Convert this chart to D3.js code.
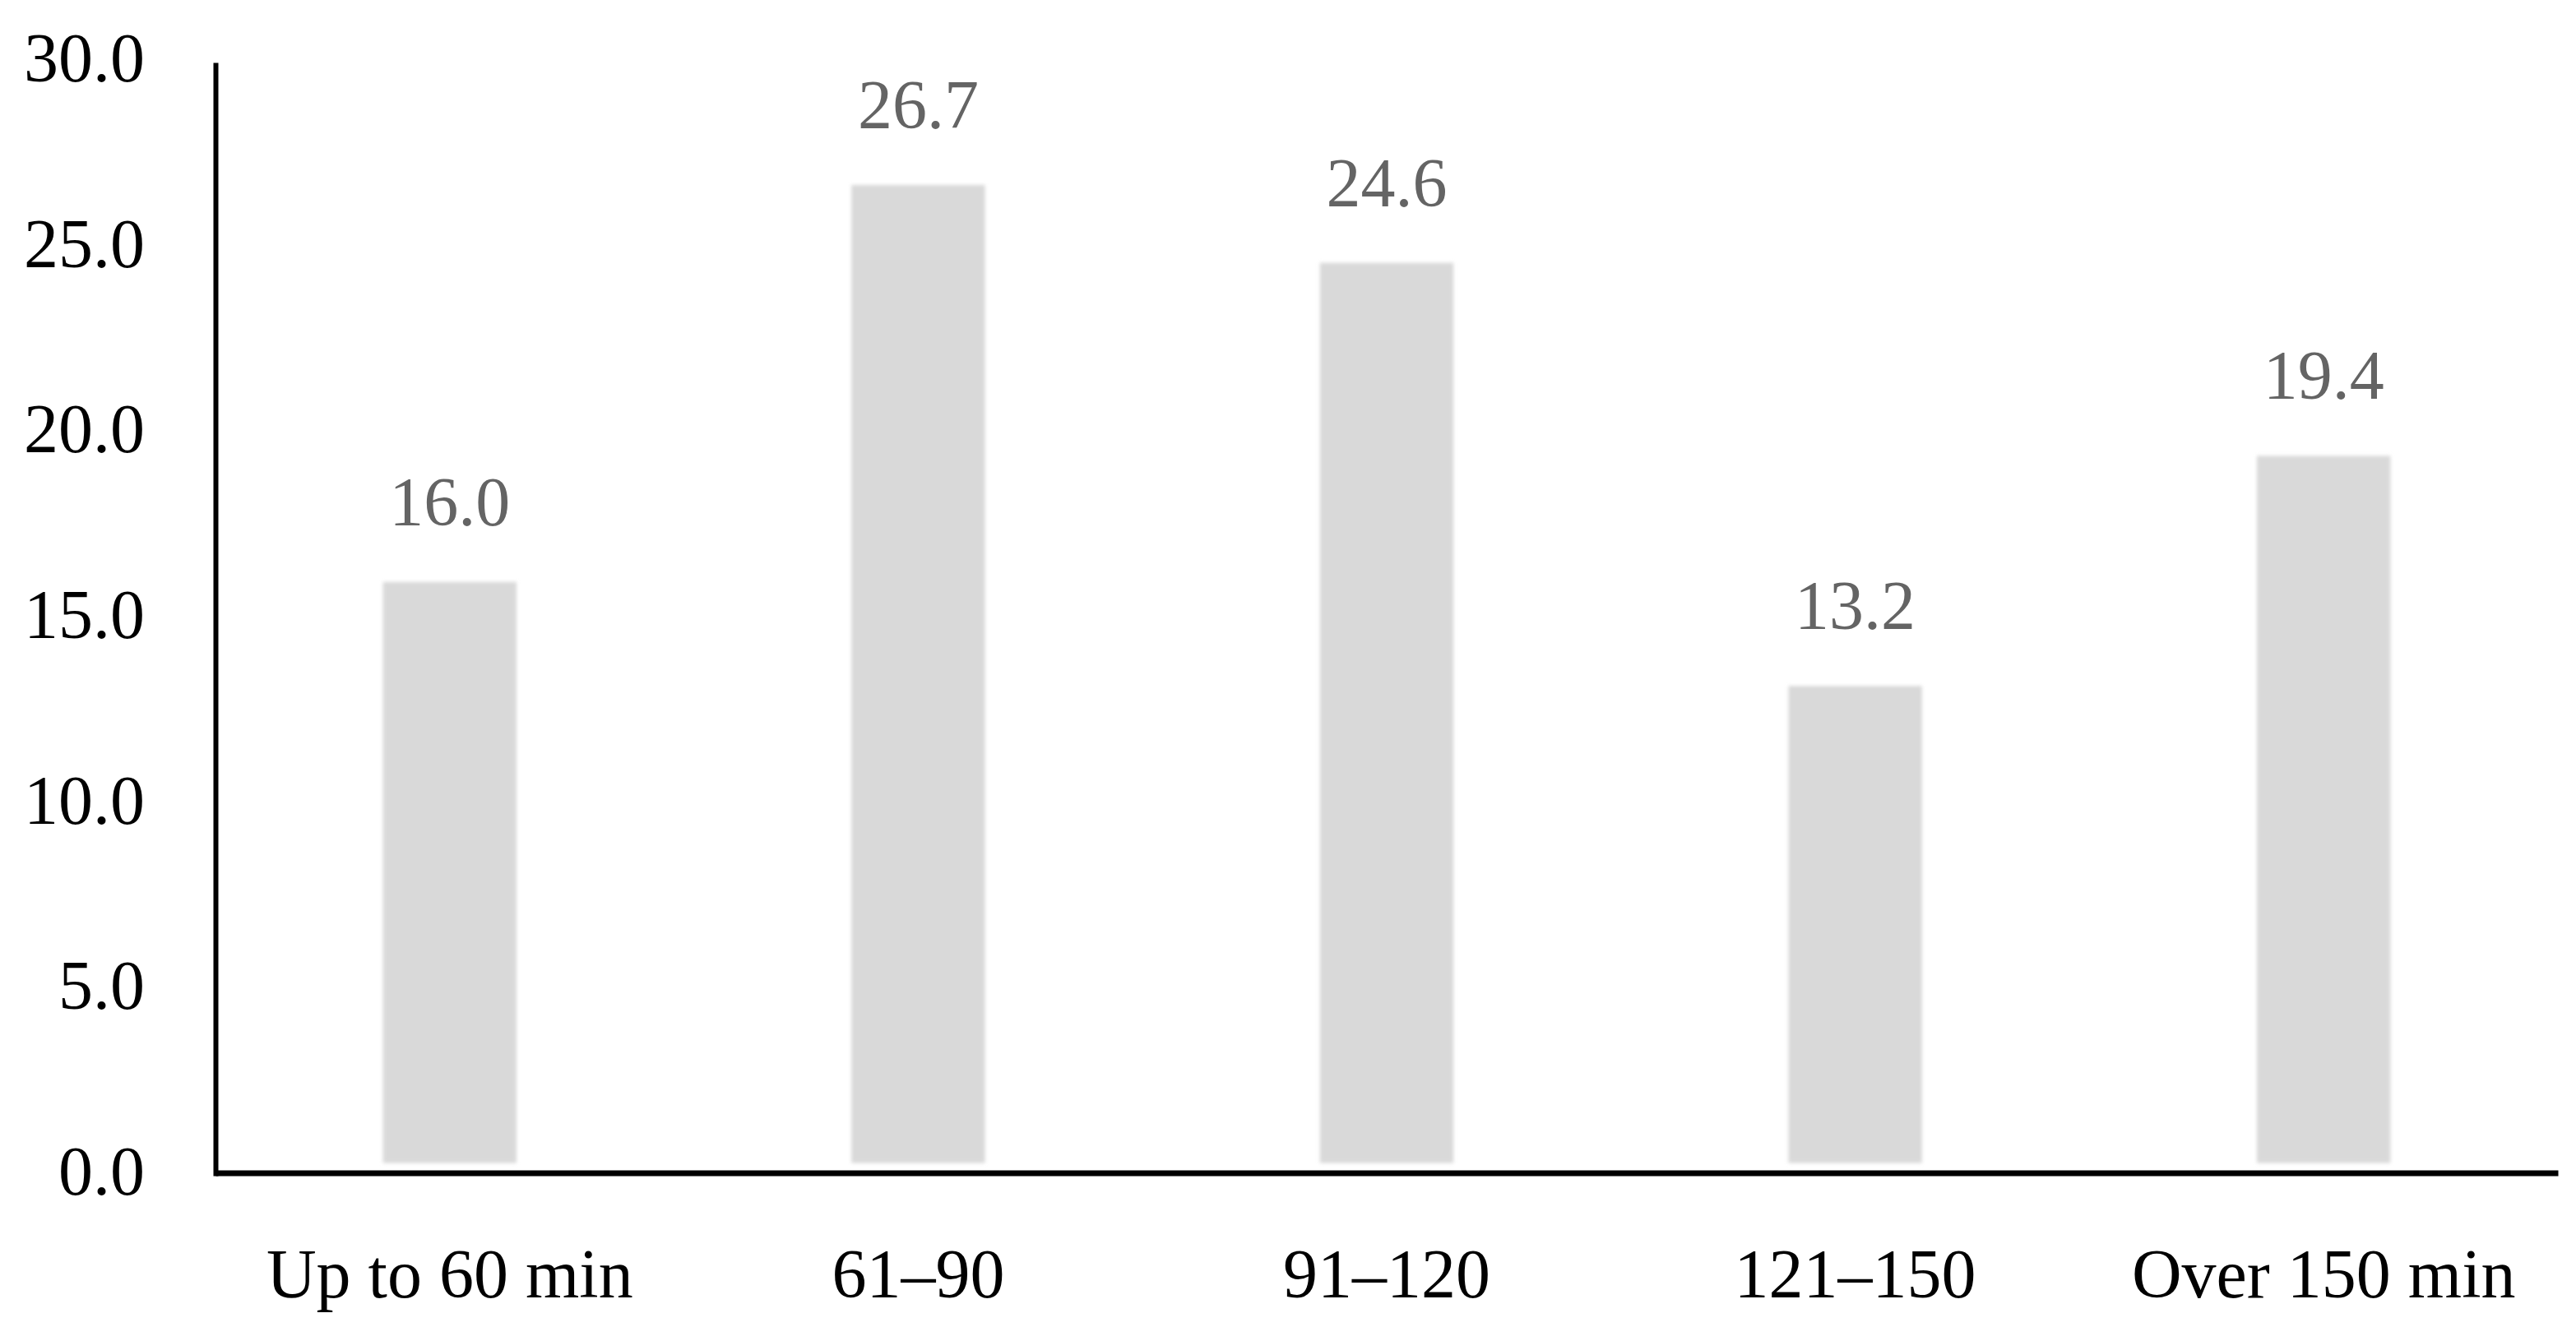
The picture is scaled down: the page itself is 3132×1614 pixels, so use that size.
<!DOCTYPE html>
<html>
<head>
<meta charset="utf-8">
<script src="https://cdn.jsdelivr.net/npm/d3@7"></script>
<style>
  html, body { margin: 0; padding: 0; background: #fff; }
  svg text { font-family: "Liberation Serif", "DejaVu Serif", serif; }
</style>
</head>
<body>
<div id="chart"></div>
<script>
// Data
const categories = ['Up to 60 min', '61–90', '91–120', '121–150', 'Over 150 min'];
const values = [16.0, 26.7, 24.6, 13.2, 19.4];
const yTicks = [0, 5, 10, 15, 20, 25, 30];

const width = 3132;
const height = 1614;
const margin = { top: 76, right: 22, bottom: 184, left: 262 };

const svg = d3.select('#chart')
  .append('svg')
  .attr('width', width)
  .attr('height', height);

// soft edge like the original raster
svg.append('defs')
  .append('filter')
  .attr('id', 'soft')
  .append('feGaussianBlur')
  .attr('stdDeviation', 2);

const x = d3.scaleBand()
  .domain(categories)
  .range([margin.left, width - margin.right])
  .paddingInner(0.715)
  .paddingOuter(0.3575);

const y = d3.scaleLinear()
  .domain([0, 30])
  .range([height - margin.bottom, margin.top]);

const baseY = y(0) - 3.5;   // where the x axis line sits
const barGap = 12;          // small white gap between bars and the axis

// bars
svg.append('g')
  .attr('filter', 'url(#soft)')
  .selectAll('rect')
  .data(values)
  .enter()
  .append('rect')
  .attr('x', (d, i) => x(categories[i]))
  .attr('y', d => y(d))
  .attr('width', x.bandwidth())
  .attr('height', d => baseY - barGap - y(d))
  .attr('fill', '#d9d9d9');

// value labels
svg.append('g')
  .selectAll('text')
  .data(values)
  .enter()
  .append('text')
  .attr('x', (d, i) => x(categories[i]) + x.bandwidth() / 2)
  .attr('y', d => y(d) - 69)
  .attr('text-anchor', 'middle')
  .attr('fill', '#646464')
  .attr('font-size', 84)
  .text(d => d.toFixed(1));

// y axis
const yAxis = svg.append('g')
  .attr('transform', `translate(${margin.left},0)`)
  .call(d3.axisLeft(y)
    .tickValues(yTicks)
    .tickSize(0)
    .tickSizeOuter(0)
    .tickPadding(86)
    .tickFormat(d3.format('.1f')));

yAxis.select('.domain')
  .attr('stroke', '#000')
  .attr('stroke-width', 6);

yAxis.selectAll('.tick')
  .attr('transform', d => `translate(0,${y(d) - 4})`);

yAxis.selectAll('text')
  .attr('fill', '#000')
  .attr('font-size', 84)
  .attr('font-family', '"Liberation Serif", serif');

// x axis
const xAxis = svg.append('g')
  .attr('transform', `translate(0,${baseY})`)
  .call(d3.axisBottom(x)
    .tickSize(0)
    .tickSizeOuter(0)
    .tickPadding(92));

xAxis.select('.domain')
  .attr('stroke', '#000')
  .attr('stroke-width', 7);

xAxis.selectAll('text')
  .attr('fill', '#000')
  .attr('font-size', 84)
  .attr('font-family', '"Liberation Serif", serif');
</script>
</body>
</html>
